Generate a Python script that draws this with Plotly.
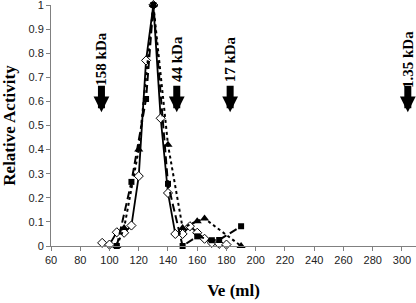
import plotly.graph_objects as go

# Series
ve_diamond = [95, 100, 105, 110, 115, 120, 125, 130, 135, 140, 145, 150, 155, 160, 165, 170, 175, 180]
act_diamond = [0.013, 0.006, 0.057, 0.055, 0.085, 0.29, 0.77, 1.0, 0.53, 0.22, 0.05, 0.05, 0.082, 0.055, 0.03, 0.013, 0.009, 0.006]

ve_square = [105, 115, 125, 130, 140, 150, 160, 170, 175, 190]
act_square = [0.0, 0.266, 0.61, 1.0, 0.258, 0.0, 0.04, 0.024, 0.025, 0.082]

ve_triangle = [105, 110, 120, 130, 140, 150, 160, 165, 190]
act_triangle = [0.0, 0.075, 0.40, 1.0, 0.42, 0.075, 0.103, 0.114, 0.0]

marker_labels = ["158 kDa", "44 kDa", "17 kDa", "1.35 kDa"]
marker_ve = [94.5, 146, 182.5, 304]

x_ticks = list(range(60, 301, 20))
y_ticks = [0, 0.1, 0.2, 0.3, 0.4, 0.5, 0.6, 0.7, 0.8, 0.9, 1]
y_ticktext = ["0", "0.1", "0.2", "0.3", "0.4", "0.5", "0.6", "0.7", "0.8", "0.9", "1"]

fig = go.Figure()
fig.add_trace(go.Scatter(
    x=ve_diamond, y=act_diamond, mode="lines+markers", cliponaxis=False,
    line=dict(color="black", width=1.8),
    marker=dict(symbol="diamond", size=7, color="white", line=dict(color="black", width=1)),
    showlegend=False))
fig.add_trace(go.Scatter(
    x=ve_triangle, y=act_triangle, mode="lines+markers", cliponaxis=False,
    line=dict(color="black", width=2, dash="3px,3px"),
    marker=dict(symbol="triangle-up", size=8, color="black"), showlegend=False))
fig.add_trace(go.Scatter(
    x=ve_square, y=act_square, mode="lines+markers", cliponaxis=False,
    line=dict(color="black", width=2, dash="8px,4px"),
    marker=dict(symbol="square", size=6, color="black"), showlegend=False))

serif = "Liberation Serif, Times New Roman, serif"
for lab, v in zip(marker_labels, marker_ve):
    fig.add_annotation(x=v, y=0.555, xref="x", yref="y", text="", showarrow=True,
                       ax=0, ay=-28, arrowhead=2, arrowwidth=7, arrowsize=0.45,
                       arrowcolor="black")
    fig.add_annotation(x=v, y=0.775, xref="x", yref="y", text="<b>%s</b>" % lab,
                       showarrow=False, textangle=-90,
                       font=dict(family=serif, size=15, color="black"))

axis_common = dict(showline=True, linecolor="#808080", linewidth=1, ticks="outside",
                   tickcolor="#808080", ticklen=4, showgrid=False, zeroline=False,
                   automargin=False, ticklabeloverflow="allow",
                   tickfont=dict(family="Liberation Sans, Arial, sans-serif", size=11, color="#222"))

fig.update_xaxes(range=[60, 309.6], tickvals=x_ticks,
                 title=dict(text="<b>Ve (ml)</b>", font=dict(family=serif, size=17, color="black"),
                            standoff=18),
                 **axis_common)
fig.update_yaxes(range=[0, 1], tickmode="array", tickvals=y_ticks, ticktext=y_ticktext,
                 title=dict(text="<b>Relative Activity</b>", font=dict(family=serif, size=17, color="black"),
                            standoff=12),
                 **axis_common)

fig.update_layout(width=416, height=303, margin=dict(l=51, r=0, t=5, b=57),
                  plot_bgcolor="white", paper_bgcolor="white")

fig.write_html("out.html", config={"displayModeBar": False},
               post_script="document.body.style.margin='0';")
